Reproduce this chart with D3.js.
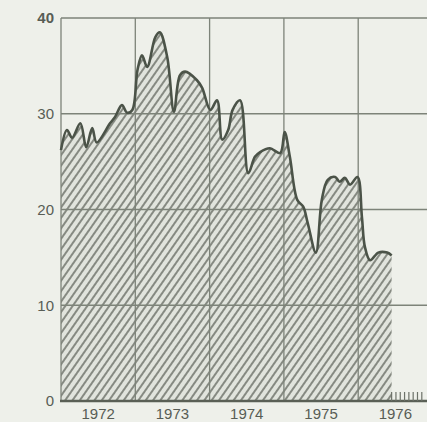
<!DOCTYPE html>
<html>
<head>
<meta charset="utf-8">
<script src="https://cdn.jsdelivr.net/npm/d3@7"></script>
<style>
  body { margin: 0; background: #eef0ea; }
  svg { display: block; }
  text { font-family: "Liberation Sans", Arial, sans-serif; fill: #585d55; }
</style>
</head>
<body>
<svg id="chart" width="427" height="422"></svg>
<script>
// decimal year of each reading, and the value
var years = [1972.00, 1972.08, 1972.15, 1972.26, 1972.34, 1972.42, 1972.48, 1972.66, 1972.73,
  1972.82, 1972.89, 1972.96, 1973.03, 1973.09, 1973.16, 1973.27, 1973.33, 1973.43, 1973.52,
  1973.60, 1973.67, 1973.83, 1973.90, 1974.01, 1974.10, 1974.17, 1974.25, 1974.31, 1974.41,
  1974.52, 1974.61, 1974.68, 1974.81, 1974.95, 1975.01, 1975.08, 1975.18, 1975.26, 1975.32,
  1975.43, 1975.51, 1975.59, 1975.69, 1975.75, 1975.82, 1975.89, 1975.99, 1976.05, 1976.09,
  1976.16, 1976.27, 1976.39, 1976.45]
var values = [26.2, 28.3, 27.5, 29.0, 26.5, 28.5, 27.0, 29.0, 29.7,
  30.9, 30.1, 30.4, 34.6, 36.1, 34.9, 38.0, 38.5, 35.9, 30.2,
  34.0, 34.4, 33.5, 32.7, 30.4, 31.4, 27.3, 28.3, 30.4, 31.4,
  23.8, 25.5, 26.0, 26.4, 25.9, 28.1, 25.5, 21.0, 20.3, 18.6,
  15.5, 21.0, 23.1, 23.4, 22.9, 23.3, 22.6, 23.4, 19.2, 16.1,
  14.7, 15.5, 15.5, 15.2]
var yTicks = [0, 10, 20, 30, 40]
var yearLabels = ['1972', '1973', '1974', '1975', '1976']

var data = years.map(function (y, i) { return { t: y, v: values[i] } })

var svg = d3.select('#chart')
var x = d3.scaleLinear().domain([1972, 1977]).range([61, 432.5])
var y = d3.scaleLinear().domain([0, 40]).range([401, 18])

// hatch pattern for the area
var defs = svg.append('defs')
var pat = defs.append('pattern')
  .attr('id', 'hatch')
  .attr('patternUnits', 'userSpaceOnUse')
  .attr('width', 6).attr('height', 6)
  .attr('patternTransform', 'rotate(35)')
pat.append('rect').attr('width', 6).attr('height', 6).attr('fill', '#e1e4dd')
pat.append('line')
  .attr('x1', 1).attr('x2', 1).attr('y1', 0).attr('y2', 6)
  .attr('stroke', '#676c63').attr('stroke-width', 1.5)

var area = d3.area()
  .x(function (d) { return x(d.t) })
  .y0(y(0))
  .y1(function (d) { return y(d.v) })
  .curve(d3.curveCatmullRom.alpha(0.5))

var line = d3.line()
  .x(function (d) { return x(d.t) })
  .y(function (d) { return y(d.v) })
  .curve(d3.curveCatmullRom.alpha(0.5))

svg.append('path').datum(data)
  .attr('d', area)
  .attr('fill', 'url(#hatch)')

// grid
var grid = svg.append('g').attr('stroke', '#7d8379').attr('stroke-width', 1.3)
grid.selectAll('.h').data(yTicks.filter(function (d) { return d > 0 })).enter()
  .append('line')
  .attr('x1', x(1972)).attr('x2', 427)
  .attr('y1', function (d) { return y(d) }).attr('y2', function (d) { return y(d) })
grid.selectAll('.v').data([1972, 1973, 1974, 1975, 1976]).enter()
  .append('line')
  .attr('x1', function (d) { return x(d) }).attr('x2', function (d) { return x(d) })
  .attr('y1', y(40)).attr('y2', y(0))

// baseline
svg.append('line')
  .attr('x1', x(1972) - 1).attr('x2', 427)
  .attr('y1', y(0)).attr('y2', y(0))
  .attr('stroke', '#5a6056').attr('stroke-width', 2.4)

// small ticks along the baseline after the data ends
svg.append('g').selectAll('line')
  .data(d3.range(1976.45, 1976.86, 0.058)).enter()
  .append('line')
  .attr('x1', function (d) { return x(d) }).attr('x2', function (d) { return x(d) })
  .attr('y1', y(0)).attr('y2', y(0) - 9)
  .attr('stroke', '#6d7269').attr('stroke-width', 1.2)

svg.append('path').datum(data)
  .attr('d', line)
  .attr('fill', 'none')
  .attr('stroke', '#4b5348')
  .attr('stroke-width', 2.6)
  .attr('stroke-linejoin', 'round')

// y labels
svg.append('g').selectAll('text')
  .data(yTicks).enter()
  .append('text')
  .attr('x', 54)
  .attr('y', function (d) { return y(d) })
  .attr('dy', '0.35em')
  .attr('text-anchor', 'end')
  .attr('font-size', 15)
  .attr('font-weight', function (d) { return d === 40 ? 'bold' : 'normal' })
  .text(function (d) { return d })

// x labels
svg.append('g').selectAll('text')
  .data(yearLabels).enter()
  .append('text')
  .attr('x', function (d, i) { return x(1972 + i + 0.5) })
  .attr('y', 419)
  .attr('text-anchor', 'middle')
  .attr('font-size', 15)
  .text(function (d) { return d })
</script>
</body>
</html>
